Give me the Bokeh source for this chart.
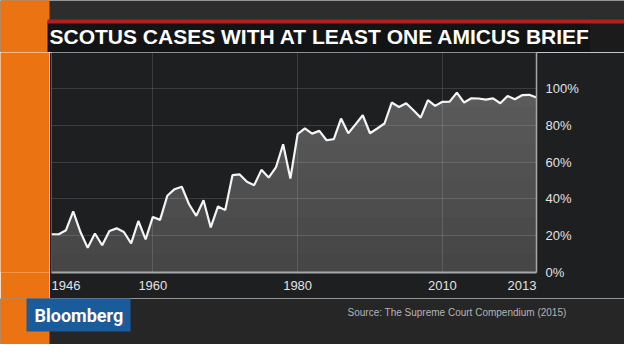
from bokeh.plotting import figure
from bokeh.models import Label, FixedTicker, Range1d
from bokeh.layouts import column, row
from bokeh.embed import file_html
from bokeh.resources import INLINE

# ---- data (share of SCOTUS cases with at least one amicus brief, %) ----
years = list(range(1946, 2014))
share = [20.8, 20.8, 23.0, 33.2, 22.0, 13.4, 21.2, 14.8, 22.6, 24.0,
         22.0, 15.8, 28.0, 18.0, 30.2, 28.6, 41.7, 45.3, 46.6, 37.1,
         30.8, 39.3, 24.5, 35.9, 33.9, 52.9, 53.3, 49.3, 47.5, 55.8,
         51.6, 57.1, 69.7, 51.1, 75.2, 78.4, 75.5, 77.0, 71.9, 72.5,
         83.7, 75.7, 80.5, 85.5, 75.7, 78.3, 81.0, 92.4, 90.0, 92.0,
         88.2, 84.2, 93.7, 90.6, 92.8, 92.9, 97.8, 92.4, 94.7, 94.6,
         94.0, 94.7, 92.0, 96.0, 94.2, 96.4, 96.6, 95.1]

y_ticks = [0, 20, 40, 60, 80, 100]
y_labels = ["0%", "20%", "40%", "60%", "80%", "100%"]
x_tick_pos = [1948, 1960, 1980, 2000, 2011]
x_tick_labels = ["1946", "1960", "1980", "2010", "2013"]
grid_years = [1960, 1980, 2000]

title_text = "SCOTUS CASES WITH AT LEAST ONE AMICUS BRIEF"
source_text = "Source: The Supreme Court Compendium (2015)"
brand_text = "Bloomberg"

FONT = "Liberation Sans"
ORANGE = "#ec7311"
ORANGE_RIGHT = 57


# ---------- decorative panels (coordinates in page pixels) ----------
def decor(x0, x1, y0, y1, bg):
    f = figure(width=x1 - x0, height=y1 - y0, output_backend="svg",
               toolbar_location=None, title=None,
               x_range=Range1d(x0, x1), y_range=Range1d(y1, y0),
               x_axis_location=None, y_axis_location=None,
               min_border_left=0, min_border_right=0,
               min_border_top=0, min_border_bottom=0)
    f.grid.visible = False
    f.outline_line_color = None
    f.background_fill_color = bg
    f.border_fill_color = bg
    return f


def orange_stripe(f, y0, y1):
    f.quad(left=[0], right=[ORANGE_RIGHT], bottom=[y0 - 2], top=[y1 + 2],
           fill_color=ORANGE, line_color=None)


# top panel: title bar
top = decor(8, 632, 8, 60, "#2d2d2d")
orange_stripe(top, 8, 60)
top.quad(left=[598, 55, 55], right=[640, 598, 640], bottom=[62, 62, 31],
         top=[31, 29, 27], fill_color=["#1b1b1b", "#121314", "#b51e1b"],
         line_color=None)
top.add_layout(Label(x=57, y=43.5, text=title_text, text_font=FONT,
                     text_font_size="21px", text_font_style="bold",
                     text_color="#ffffff", text_baseline="middle"))

# middle-left: orange stripe beside chart
mid_left = decor(8, 57, 60, 306, ORANGE)

# bottom panel: logo + source
bottom = decor(8, 632, 306, 352, "#262626")
orange_stripe(bottom, 306, 352)
bottom.quad(left=[34], right=[138], bottom=[339], top=[300],
            fill_color="#1a5b9b", line_color=None)
bottom.add_layout(Label(x=42, y=322.5, text=brand_text, text_font="Roboto",
                        text_font_size="18px", text_font_style="bold",
                        text_color="#ffffff", text_baseline="middle"))
bottom.add_layout(Label(x=574, y=320, text=source_text, text_font=FONT,
                        text_font_size="10px", text_color="#b4b4b4",
                        text_align="right", text_baseline="middle"))

# ---------- main chart ----------
p = figure(width=575, height=246, output_backend="svg", toolbar_location=None,
           title=None, y_axis_location="right",
           x_range=Range1d(1946, 2013), y_range=Range1d(0, 119.6),
           min_border_left=2, min_border_right=88,
           min_border_top=0, min_border_bottom=26)
p.background_fill_color = "#1e1f21"
p.border_fill_color = "#1e1f21"
p.outline_line_color = None

# area with a soft vertical gradient (darker toward the bottom)
n_bands = 12
for k in range(n_bands):
    lo = 10 * k
    shade = int(0x46 + (0x60 - 0x46) * k / (n_bands - 1))
    p.varea(x=years, y1=[min(v, lo) for v in share], y2=share,
            fill_color="#%02x%02x%02x" % (shade, shade, shade), fill_alpha=1)
p.line(x=years, y=share, line_color="#f4f4f4", line_width=2.2)

p.xgrid.ticker = FixedTicker(ticks=grid_years)
p.ygrid.ticker = FixedTicker(ticks=y_ticks[1:])
for g in (p.xgrid, p.ygrid):
    g.grid_line_color = "#ffffff"
    g.grid_line_alpha = 0.13
    g.grid_line_width = 1
    g.level = "annotation"

ya = p.yaxis[0]
ya.ticker = FixedTicker(ticks=y_ticks)
ya.major_label_overrides = {t: l for t, l in zip(y_ticks, y_labels)}
ya.axis_line_color = "#a8a8a8"
ya.axis_line_width = 1.5
ya.major_tick_out = 0
ya.major_tick_in = 0
ya.major_tick_line_color = None
ya.minor_tick_line_color = None
ya.major_label_standoff = 9
ya.major_label_text_color = "#e2e2e2"
ya.major_label_text_font = FONT
ya.major_label_text_font_size = "13px"

xa = p.xaxis[0]
xa.ticker = FixedTicker(ticks=x_tick_pos)
xa.major_label_overrides = {t: l for t, l in zip(x_tick_pos, x_tick_labels)}
xa.axis_line_color = "#a8a8a8"
xa.axis_line_width = 2
xa.major_tick_out = 0
xa.major_tick_in = 0
xa.major_tick_line_color = None
xa.minor_tick_line_color = None
xa.major_label_standoff = 8
xa.major_label_text_color = "#e2e2e2"
xa.major_label_text_font = FONT
xa.major_label_text_font_size = "13px"

layout = column(top, row(mid_left, p), bottom)

open("out.html", "w").write(file_html(layout, INLINE))
